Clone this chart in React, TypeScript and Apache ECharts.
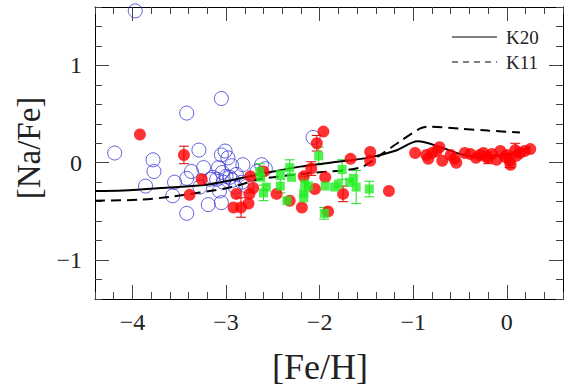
import React, { useEffect, useRef } from "react";
import * as echarts from "echarts";

// Data
const blueStars: number[][] = [
  [-3.97, 1.56], [-3.42, 0.51], [-3.05, 0.66], [-4.19, 0.10], [-2.07, 0.26], [-3.29, 0.13],
  [-3.78, 0.03], [-3.77, -0.09], [-3.86, -0.24], [-3.55, -0.20], [-3.57, -0.34], [-3.42, -0.16],
  [-3.37, -0.09], [-3.24, -0.05], [-3.28, -0.25], [-3.42, -0.52], [-3.19, -0.43], [-3.14, -0.15],
  [-3.05, 0.08], [-3.01, 0.12], [-2.98, 0.05], [-3.05, -0.41], [-3.07, -0.29], [-2.94, -0.03],
  [-2.82, -0.02], [-3.04, -0.10], [-3.0, -0.14], [-3.10, -0.17], [-2.96, -0.15], [-2.89, -0.12],
  [-2.83, -0.20], [-2.78, -0.24], [-2.90, -0.25], [-3.03, -0.20], [-2.62, -0.02], [-2.67, -0.09],
  [-3.17, -0.17], [-2.58, -0.06], [-3.08, -0.05], [-2.93, -0.18],
];

const redStars: number[][] = [
  [-3.92, 0.29], [-3.26, -0.17], [-3.39, -0.33], [-2.89, -0.32], [-2.92, -0.46], [-2.76, -0.42],
  [-2.75, -0.32], [-2.71, -0.26], [-2.74, -0.14], [-2.60, -0.09], [-2.46, -0.32], [-2.32, -0.39],
  [-2.19, -0.46], [-2.17, -0.14], [-2.05, -0.27], [-1.96, 0.32], [-1.94, -0.15], [-1.91, -0.50],
  [-1.67, 0.04], [-1.46, 0.11], [-1.46, 0.02], [-1.26, -0.29], [-0.98, 0.10], [-0.86, 0.08],
  [-0.84, 0.04], [-0.75, 0.12], [-0.72, 0.16], [-0.69, 0.02], [-0.56, 0.04], [-0.54, 0.0],
  [-0.45, 0.10], [-0.39, 0.09], [-0.29, 0.08], [-0.22, 0.06], [-0.16, 0.09], [-0.11, 0.03],
  [-0.07, 0.12], [-0.02, 0.06], [0.04, -0.02], [0.14, 0.10], [0.19, 0.12], [0.25, 0.14],
  [-0.33, 0.05], [-0.25, 0.10], [0.0, 0.08], [0.10, 0.07], [-0.60, 0.08], [-0.80, 0.10],
];

const redErr: number[][] = [
  [-3.45, 0.08, 0.09], [-2.84, -0.46, 0.10], [-2.09, -0.06, 0.07], [-2.03, 0.20, 0.08],
  [-1.75, -0.32, 0.08], [0.09, 0.13, 0.07], [-0.20, 0.05, 0.06], [0.03, 0.02, 0.07],
];

const greenStars: number[][] = [
  [-2.63, -0.15], [-2.57, -0.25], [-2.42, -0.12], [-2.35, -0.39], [-2.30, -0.15], [-2.17, -0.31],
  [-2.12, -0.24], [-2.17, -0.36], [-1.94, -0.24], [-1.84, -0.25], [-1.80, -0.22], [-1.68, -0.20],
  [-1.64, -0.16],
];

const greenErr: number[][] = [
  [-2.64, -0.09, 0.08], [-2.60, -0.31, 0.08], [-2.32, -0.05, 0.08], [-2.01, 0.07, 0.09],
  [-1.76, -0.07, 0.10], [-1.61, -0.25, 0.17], [-1.47, -0.27, 0.08], [-2.42, -0.24, 0.07],
  [-2.16, -0.22, 0.08], [-1.95, -0.52, 0.06],
];

const k20Line: number[][] = [
  [-4.4, -0.29], [-4.1, -0.285], [-3.7, -0.26], [-3.17, -0.22], [-2.6, -0.11], [-2.21, -0.04],
  [-1.89, 0.0], [-1.49, 0.05], [-1.2, 0.12], [-0.95, 0.22], [-0.71, 0.16], [-0.5, 0.09],
  [-0.29, 0.06], [0.03, 0.09], [0.25, 0.16],
];

const k11Line: number[][] = [
  [-4.4, -0.39], [-3.92, -0.38], [-3.6, -0.35], [-2.96, -0.255], [-2.64, -0.17], [-2.14, -0.11],
  [-1.57, -0.05], [-1.35, 0.08], [-1.14, 0.22], [-0.93, 0.35], [-0.84, 0.37], [-0.5, 0.35],
  [-0.2, 0.33], [0.14, 0.31],
];

const xMajor = [-4, -3, -2, -1, 0];
const yMajor = [-1, 0, 1];

const FONT = "Liberation Serif";
const fmt = (v: number) => String(v).replace("-", "\u2212");

function errorSeries(data: number[][], color: string) {
  return {
    type: "custom",
    xAxisIndex: 0,
    yAxisIndex: 0,
    data,
    encode: { x: 0, y: 1 },
    z: 2,
    renderItem: (_p: any, api: any) => {
      const x = api.value(0);
      const y = api.value(1);
      const e = api.value(2);
      const t = api.coord([x, y + e]);
      const b = api.coord([x, y - e]);
      const c = 5;
      const st = { stroke: color, lineWidth: 1 };
      return {
        type: "group",
        children: [
          { type: "line", shape: { x1: t[0], y1: t[1], x2: b[0], y2: b[1] }, style: st },
          { type: "line", shape: { x1: t[0] - c, y1: t[1], x2: t[0] + c, y2: t[1] }, style: st },
          { type: "line", shape: { x1: b[0] - c, y1: b[1], x2: b[0] + c, y2: b[1] }, style: st },
        ],
      };
    },
  };
}

export default function App() {
  const ref = useRef<HTMLDivElement>(null);
  useEffect(() => {
    if (!ref.current) return;
    const chart = echarts.init(ref.current, null, { renderer: "svg" });
    const tickStyle = { color: "#444", width: 1 };
    const xBase = { type: "value", min: -4.4, max: 0.6, gridIndex: 0, splitLine: { show: false } };
    const yBase = { type: "value", min: -1.4, max: 1.6, gridIndex: 0, splitLine: { show: false } };
    const option: any = {
      animation: false,
      backgroundColor: "#fff",
      grid: { left: 95, right: 7, top: 7, bottom: 87, containLabel: false },
      xAxis: [
        {
          ...xBase,
          position: "bottom",
          axisLine: { show: true, onZero: false, lineStyle: { color: "#000", width: 1 } },
          axisTick: { show: true, inside: true, length: 14, lineStyle: tickStyle, customValues: xMajor },
          axisLabel: {
            show: true, customValues: xMajor, formatter: fmt, margin: 11,
            fontFamily: FONT, fontSize: 24, color: "#222",
          },
          name: "[Fe/H]", nameLocation: "middle", nameGap: 50,
          nameTextStyle: { fontFamily: FONT, fontSize: 36, color: "#222", padding: [0, 18, 0, 0] },
        },
        {
          ...xBase, position: "bottom", interval: 0.2,
          axisLine: { show: false, onZero: false },
          axisTick: { show: true, inside: true, length: 7, lineStyle: tickStyle },
          axisLabel: { show: false },
        },
        {
          ...xBase, position: "top",
          axisLine: { show: true, onZero: false, lineStyle: { color: "#000", width: 1 } },
          axisTick: { show: true, inside: true, length: 14, lineStyle: tickStyle, customValues: xMajor },
          axisLabel: { show: false },
        },
        {
          ...xBase, position: "top", interval: 0.2,
          axisLine: { show: false, onZero: false },
          axisTick: { show: true, inside: true, length: 7, lineStyle: tickStyle },
          axisLabel: { show: false },
        },
      ],
      yAxis: [
        {
          ...yBase,
          position: "left",
          axisLine: { show: true, onZero: false, lineStyle: { color: "#000", width: 1 } },
          axisTick: { show: true, inside: true, length: 14, lineStyle: tickStyle, customValues: yMajor },
          axisLabel: {
            show: true, customValues: yMajor, formatter: fmt, margin: 13,
            fontFamily: FONT, fontSize: 24, color: "#222",
          },
          name: "[Na/Fe]", nameLocation: "middle", nameGap: 50, nameRotate: 90,
          nameTextStyle: { fontFamily: FONT, fontSize: 33, color: "#222", padding: [0, 0, 0, 10] },
        },
        {
          ...yBase, position: "left", interval: 0.2,
          axisLine: { show: false, onZero: false },
          axisTick: { show: true, inside: true, length: 7, lineStyle: tickStyle },
          axisLabel: { show: false },
        },
        {
          ...yBase, position: "right",
          axisLine: { show: true, onZero: false, lineStyle: { color: "#000", width: 1 } },
          axisTick: { show: true, inside: true, length: 14, lineStyle: tickStyle, customValues: yMajor },
          axisLabel: { show: false },
        },
        {
          ...yBase, position: "right", interval: 0.2,
          axisLine: { show: false, onZero: false },
          axisTick: { show: true, inside: true, length: 7, lineStyle: tickStyle },
          axisLabel: { show: false },
        },
      ],
      series: [
        {
          type: "scatter", name: "blue", data: blueStars, symbol: "circle", symbolSize: 14, z: 1,
          itemStyle: { color: "rgba(0,0,0,0)", borderColor: "#3a3ad6", borderWidth: 1 },
        },
        {
          type: "line", name: "K20", data: k20Line, symbol: "none", smooth: 0.3, z: 3,
          lineStyle: { color: "#000", width: 2 },
        },
        {
          type: "line", name: "K11", data: k11Line, symbol: "none", smooth: 0.3, z: 3,
          lineStyle: { color: "#000", width: 2, type: [10, 6] },
        },
        errorSeries(redErr, "#e00000"),
        {
          type: "scatter", name: "red", data: redStars, symbol: "circle", symbolSize: 12, z: 4,
          itemStyle: { color: "#ff0000" },
        },
        {
          type: "scatter", name: "redErr", data: redErr.map((d) => [d[0], d[1]]), symbol: "circle",
          symbolSize: 12, z: 4, itemStyle: { color: "#ff0000" },
        },
        errorSeries(greenErr, "#22dd22"),
        {
          type: "scatter", name: "green", data: greenStars, symbol: "rect", symbolSize: 9, z: 5,
          itemStyle: { color: "#22ee22" },
        },
        {
          type: "scatter", name: "greenErr", data: greenErr.map((d) => [d[0], d[1]]), symbol: "rect",
          symbolSize: 9, z: 5, itemStyle: { color: "#22ee22" },
        },
      ],
      graphic: [
        { type: "line", shape: { x1: 452, y1: 37, x2: 497, y2: 37 }, style: { stroke: "#000", lineWidth: 1.2 } },
        {
          type: "text", x: 506, y: 37,
          style: { text: "K20", fontFamily: FONT, fontSize: 19, fill: "#222", verticalAlign: "middle" },
        },
        {
          type: "line", shape: { x1: 452, y1: 62, x2: 497, y2: 62 },
          style: { stroke: "#000", lineWidth: 1.2, lineDash: [6, 5] },
        },
        {
          type: "text", x: 506, y: 62,
          style: { text: "K11", fontFamily: FONT, fontSize: 19, fill: "#222", verticalAlign: "middle" },
        },
      ],
    };
    chart.setOption(option);
    return () => chart.dispose();
  }, []);
  return <div ref={ref} style={{ width: 570, height: 390, position: "absolute", left: 0, top: 0 }} />;
}
